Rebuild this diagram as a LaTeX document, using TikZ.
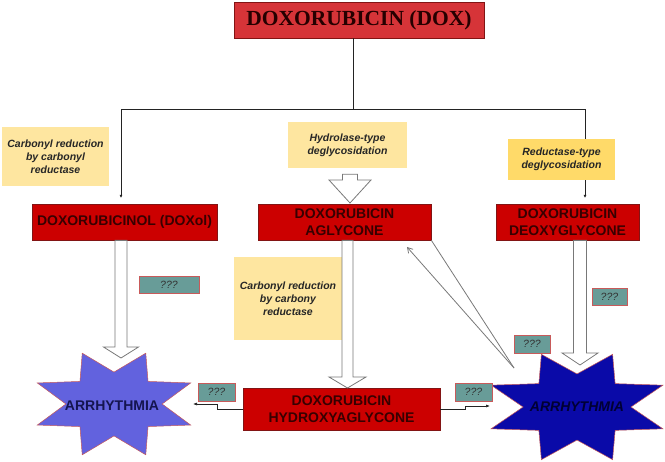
\documentclass[tikz,border=0pt]{standalone}
\usepackage{fontspec}
\setmainfont{Liberation Sans}
\newfontfamily\timesfont{Liberation Serif}
\usetikzlibrary{calc,arrows.meta}
\definecolor{topred}{RGB}{214,52,56}
\definecolor{boxred}{RGB}{204,0,0}
\definecolor{darkred}{RGB}{130,20,20}
\definecolor{redtext}{RGB}{55,0,0}
\definecolor{paleyellow}{RGB}{254,230,160}
\definecolor{goldyellow}{RGB}{255,218,105}
\definecolor{tealbox}{RGB}{104,156,152}
\definecolor{pinkedge}{RGB}{200,90,90}
\definecolor{lavblue}{RGB}{98,98,222}
\definecolor{deepblue}{RGB}{10,10,168}
\definecolor{navytext}{RGB}{20,20,80}
\definecolor{arrowgray}{RGB}{120,120,120}
\definecolor{lineblack}{RGB}{35,35,35}
\newcommand{\eightstar}[5]{\filldraw[#5] plot[variable=\k, samples at={0,...,15}] ({#1+#3*(1-0.42*mod(\k,2))*cos(22.5*(\k+1))},{#2+#4*(1-0.42*mod(\k,2))*sin(22.5*(\k+1))}) -- cycle;}
\newcommand{\blockarrow}[5]{\draw[hollow] ($(#1)+(-#3,0)$) -- ($(#2)+(-#3,-#5)$) -- ($(#2)+(-#4,-#5)$) -- (#2) -- ($(#2)+(#4,-#5)$) -- ($(#2)+(#3,-#5)$) -- ($(#1)+(#3,0)$) -- cycle;}
\begin{document}
\begin{tikzpicture}[x=1pt,y=-1pt,
  redbox/.style={draw=darkred, line width=0.8pt, fill=boxred, text=redtext, inner sep=0pt, align=center,
    font=\bfseries\fontsize{14}{17}\selectfont},
  topbox/.style={draw=darkred, line width=0.8pt, fill=topred, text=black!85!red, inner sep=0pt,
    font=\timesfont\bfseries\fontsize{21.5}{24}\selectfont},
  notebox/.style={fill=paleyellow, inner sep=0pt, align=center, text=black!85,
    font=\bfseries\itshape\fontsize{10.5}{13}\selectfont},
  qbox/.style={draw=pinkedge, line width=0.5pt, fill=tealbox, inner sep=0pt, text=black!80,
    font=\itshape\fontsize{10.5}{12}\selectfont},
  startext/.style={inner sep=0pt, font=\bfseries\fontsize{14}{16}\selectfont},
  tree/.style={draw=lineblack, line width=0.9pt},
  hollow/.style={draw=arrowgray, line width=0.8pt, fill=white},
  thinarrow/.style={draw=lineblack, line width=0.6pt, -{Latex[length=4pt,width=3pt]}},
  greyline/.style={draw=arrowgray, line width=0.8pt}
]
\useasboundingbox (0,0) rectangle (665,462);
% stars
\eightstar{114}{404}{83}{55}{fill=lavblue, draw=pinkedge, line width=0.5pt}
\eightstar{577}{407}{93}{57}{fill=deepblue, draw=pinkedge, line width=0.5pt}
\node[startext, text=navytext] (s1) at (112,406) {ARRHYTHMIA};
\node[startext, text=black!80!blue, font=\bfseries\itshape\fontsize{14}{16}\selectfont] (s2) at (577,407) {ARRHYTHMIA};
% boxes
\node[topbox, minimum width=250pt, minimum height=36pt] (top) at (359,20) {DOXORUBICIN (DOX)};
\node[redbox, minimum width=185pt, minimum height=36pt] (dol) at (124.5,222) {DOXORUBICINOL (DOXol)};
\node[redbox, minimum width=173pt, minimum height=36pt] (agl) at (344.5,222) {DOXORUBICIN\\AGLYCONE};
\node[redbox, minimum width=143pt, minimum height=36pt] (deo) at (567.5,222) {DOXORUBICIN\\DEOXYGLYCONE};
\node[redbox, minimum width=197pt, minimum height=42pt] (hyd) at (341.5,409) {DOXORUBICIN\\HYDROXYAGLYCONE};
% tree connectors
\coordinate (hub) at (353,109);
\coordinate (dolin) at (121,198);
\coordinate (deoin) at (585,198);
\draw[tree] (top.south -| hub) -- (hub);
\draw[tree, -{Latex[length=3pt,width=3pt]}] (hub) -| (dolin);
\draw[tree, -{Latex[length=3pt,width=3pt]}] (hub) -| (deoin);
% notes
\node[notebox, minimum width=107pt, minimum height=59pt] (n1) at (55.5,156.5) {Carbonyl reduction\\by carbonyl\\reductase};
\node[notebox, minimum width=119pt, minimum height=46pt] (n2) at (347.5,145) {Hydrolase-type\\deglycosidation};
\node[notebox, fill=goldyellow, minimum width=107pt, minimum height=41pt] (n3) at (561.5,159.5) {Reductase-type\\deglycosidation};
\node[notebox, minimum width=108pt, minimum height=83pt] (n4) at (288,298.5) {Carbonyl reduction\\by carbony\\reductase};
% block arrows
\coordinate (a1t) at (121,358);
\coordinate (a2t) at (350,203);
\coordinate (a3t) at (347.5,388);
\coordinate (a4t) at (580,365);
\blockarrow{dol.south -| a1t}{a1t}{6}{17.5}{11}
\blockarrow{$(n2.south -| a2t)+(0,6)$}{a2t}{7.5}{21}{23}
\blockarrow{agl.south -| a3t}{a3t}{5.5}{18.5}{11}
\blockarrow{deo.south -| a4t}{a4t}{6.5}{18}{12}
% thin lines to the right star
\coordinate (s2tip) at (514,368);
\coordinate (aglin) at (407,247);
\draw[greyline] (agl.south east) -- (s2tip);
\draw[greyline, -{Straight Barb[length=5pt,width=6pt]}] (s2tip) -- (aglin);
% elbow connectors
\coordinate (s1in) at (193,404);
\coordinate (s2in) at (490,406);
\draw[thinarrow] (hyd.west) -- ++(-25,0) |- (s1in);
\draw[thinarrow] (hyd.east) -- ++(25,0) |- (s2in);
% ??? boxes
\node[qbox, minimum width=60pt, minimum height=17pt] (q1) at (169,284.5) {???};
\node[qbox, minimum width=37pt, minimum height=18pt] (q2) at (216.5,392) {???};
\node[qbox, minimum width=37pt, minimum height=18pt] (q3) at (473.5,392) {???};
\node[qbox, minimum width=36pt, minimum height=18pt] (q4) at (532,344) {???};
\node[qbox, minimum width=35pt, minimum height=17pt] (q5) at (609.5,296.5) {???};
\end{tikzpicture}
\end{document}
